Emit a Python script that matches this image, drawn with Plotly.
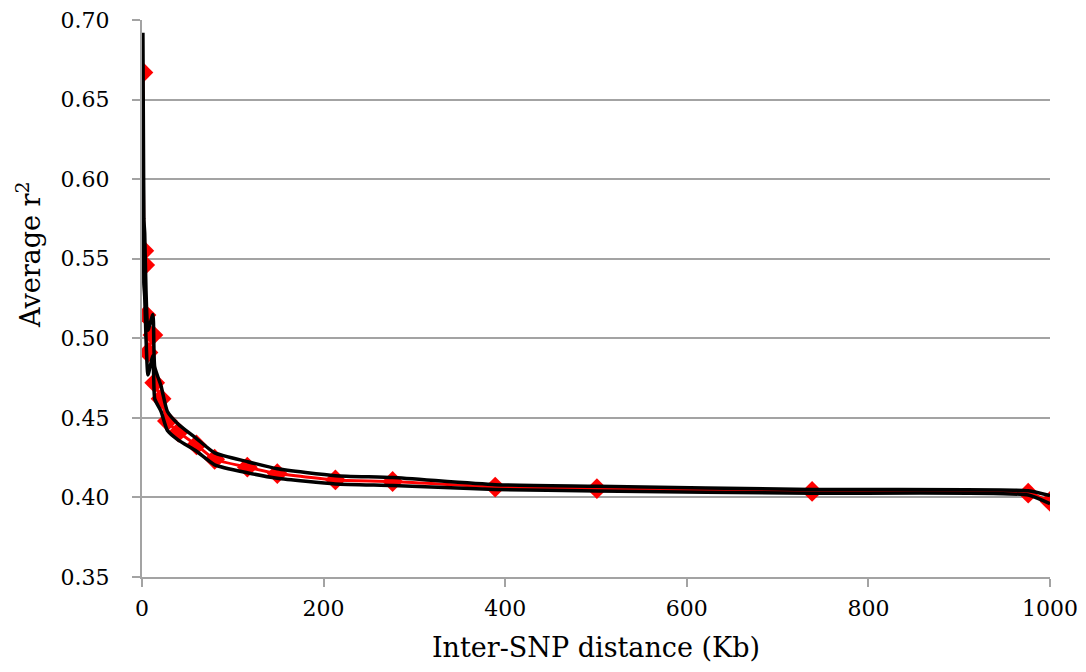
import plotly.graph_objects as go

# Average LD (r^2) by inter-SNP distance, with lower/upper bounds
distance_kb = [1, 2, 3, 4.4, 6.6, 12, 14, 21, 28, 40, 60, 80, 116, 149, 213, 276, 389, 501, 738, 976, 1000]
r2_mean = [0.667, 0.555, 0.546, 0.5146, 0.491, 0.502, 0.472, 0.462, 0.448, 0.441, 0.433, 0.424,
           0.419, 0.415, 0.411, 0.410, 0.4065, 0.4055, 0.4038, 0.4027, 0.3975]
r2_upper = [0.692, 0.575, 0.566, 0.530, 0.505, 0.515, 0.482, 0.470, 0.454, 0.446, 0.437, 0.428,
            0.4225, 0.418, 0.4137, 0.4125, 0.408, 0.407, 0.4050, 0.4042, 0.4012]
r2_lower = [0.642, 0.535, 0.526, 0.500, 0.477, 0.489, 0.462, 0.454, 0.442, 0.436, 0.429, 0.4205,
            0.4155, 0.412, 0.4085, 0.4075, 0.405, 0.404, 0.4026, 0.4015, 0.3960]

x_ticks = [0, 200, 400, 600, 800, 1000]
y_ticks = [0.35, 0.40, 0.45, 0.50, 0.55, 0.60, 0.65, 0.70]

FONT = "DejaVu Serif"
GRID = "#a3a3a3"

fig = go.Figure()

fig.add_trace(go.Scatter(
    x=distance_kb, y=r2_mean, mode="lines+markers",
    line=dict(color="#ff0000", width=3, shape="spline", smoothing=0.5),
    marker=dict(symbol="diamond", size=16, color="#ff0000"),
    showlegend=False,
))
for bound in (r2_upper, r2_lower):
    fig.add_trace(go.Scatter(
        x=distance_kb, y=bound, mode="lines",
        line=dict(color="#000000", width=3.5, shape="spline", smoothing=0.5),
        showlegend=False,
    ))

fig.update_layout(
    width=1086, height=672,
    margin=dict(l=142, r=36, t=20, b=95),
    paper_bgcolor="white", plot_bgcolor="white",
    font=dict(family=FONT, color="#000000"),
    annotations=[dict(
        text="Average r<sup>2</sup>", textangle=-90,
        xref="paper", yref="paper", x=-0.1256, y=0.578,
        xanchor="center", yanchor="middle", showarrow=False,
        font=dict(size=27, family=FONT),
    )],
)
fig.update_xaxes(
    range=[0, 1000], tickvals=x_ticks, ticktext=[str(v) for v in x_ticks],
    showgrid=False, zeroline=False, automargin=False,
    showline=True, linecolor=GRID, linewidth=2,
    ticks="outside", ticklen=8, tickwidth=2, tickcolor=GRID,
    tickfont=dict(size=22, family=FONT), ticklabelstandoff=3,
    title=dict(text="Inter-SNP distance (Kb)", font=dict(size=27, family=FONT), standoff=18),
)
fig.update_yaxes(
    range=[0.35, 0.70], tickvals=y_ticks, ticktext=[f"{v:.2f}" for v in y_ticks],
    showgrid=True, gridcolor=GRID, gridwidth=1.5, zeroline=False, automargin=False,
    showline=True, linecolor=GRID, linewidth=2,
    ticks="outside", ticklen=8, tickwidth=2, tickcolor=GRID,
    tickfont=dict(size=22, family=FONT), ticklabelstandoff=18,
)

fig.write_html("out.html")
